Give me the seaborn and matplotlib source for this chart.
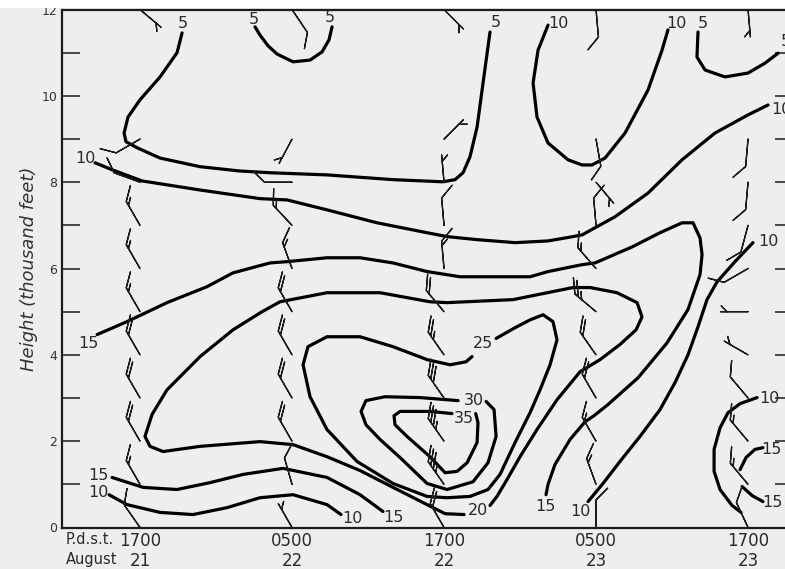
import numpy as np
import pandas as pd
import matplotlib
matplotlib.use("Agg")
import matplotlib.pyplot as plt
import seaborn as sns
from matplotlib.patches import Rectangle

# ---------------- data ----------------
# sounding times: hours after 1700 P.d.s.t., August 21
sounding_hours = [0, 12, 24, 36, 48]
time_labels = ["1700\n21", "0500\n22", "1700\n22", "0500\n23", "1700\n23"]
barb_heights = [0, 1, 2, 3, 4, 5, 6, 7, 8, 9, 12]          # thousand feet

# wind direction (deg, blowing from) and speed at barb_heights, one list per sounding
dir_21_1700 = [325, 330, 330, 330, 330, 330, 330, 330, 290, 240, 130]
spd_21_1700 = [10, 15, 20, 20, 20, 15, 15, 15, 10, 10, 5]
dir_22_0500 = [330, 344, 330, 330, 330, 330, 340, 317, 270, 208, 146]
spd_22_0500 = [5, 10, 20, 20, 20, 20, 15, 15, 10, 5, 10]
dir_22_1700 = [330, 325, 325, 325, 325, 320, 355, 355, 355, 45, 135]
spd_22_1700 = [20, 35, 35, 30, 25, 20, 15, 10, 5, 5, 5]
dir_23_0500 = [0, 340, 330, 330, 325, 310, 319, 355, 140, 170, 175]
spd_23_0500 = [10, 15, 15, 20, 20, 25, 15, 10, 5, 10, 10]
dir_23_1700 = [335, 320, 320, 320, 300, 270, 240, 195, 185, 185, 175]
spd_23_1700 = [10, 15, 15, 10, 5, 5, 10, 10, 10, 10, 5]

# isotachs (hand analysed), points as (hours, thousand feet)
iso05_west = [(3.32, 11.46), (2.92, 11.00), (1.58, 10.44), (0.00, 9.91), (-0.95, 9.51),
              (-1.26, 9.14), (-1.11, 8.94), (-0.24, 8.80), (1.58, 8.56), (4.74, 8.36),
              (7.89, 8.26), (10.26, 8.22), (14.76, 8.17), (19.97, 8.06), (23.92, 8.01),
              (24.87, 8.06), (25.50, 8.22), (26.05, 8.59), (26.61, 9.28), (27.08, 10.30),
              (27.63, 11.48)]
iso05_cell = [(9.08, 11.60), (9.47, 11.41), (10.11, 11.16), (10.82, 10.97), (12.08, 10.79),
              (13.42, 10.83), (14.37, 11.02), (14.92, 11.30), (15.16, 11.60)]
iso10_north = [(32.21, 11.64), (31.42, 11.06), (31.03, 10.30), (31.34, 9.51), (32.21, 8.91),
               (33.79, 8.52), (34.90, 8.40), (35.68, 8.40), (36.71, 8.56), (38.29, 9.14),
               (40.11, 10.14), (41.21, 11.06), (41.68, 11.53)]
iso05_east = [(44.05, 11.48), (43.97, 10.90), (44.61, 10.60), (46.18, 10.44), (48.00, 10.53),
              (49.34, 10.76), (50.37, 10.99)]
iso10_upper = [(-3.55, 8.45), (-2.21, 8.29), (0.16, 8.03), (4.74, 7.82), (9.47, 7.62),
               (11.61, 7.59), (14.76, 7.36), (18.71, 7.06), (22.66, 6.83), (24.24, 6.74),
               (26.61, 6.67), (29.61, 6.60), (32.21, 6.64), (34.18, 6.74), (34.90, 6.78),
               (37.50, 7.20), (40.11, 7.75), (42.79, 8.52), (45.39, 9.14), (48.00, 9.56),
               (49.58, 9.79)]
iso15_outer = [(-3.39, 4.47), (-1.03, 4.77), (2.13, 5.21), (5.29, 5.58), (7.34, 5.90),
               (10.26, 6.13), (11.61, 6.16), (14.76, 6.25), (17.37, 6.25), (19.97, 6.13),
               (22.66, 5.93), (25.26, 5.81), (30.79, 5.81), (32.21, 5.93), (34.90, 6.09),
               (35.92, 6.13), (38.84, 6.50), (41.05, 6.83), (42.79, 7.06), (43.66, 7.06),
               (44.21, 6.71), (44.37, 6.32), (44.21, 5.86), (43.26, 5.05), (41.61, 4.28),
               (39.32, 3.47), (36.95, 2.85), (35.84, 2.59), (35.13, 2.45), (33.95, 2.04),
               (32.76, 1.46), (32.21, 1.00), (32.05, 0.76)]
iso20_loop = [(27.63, 0.51), (28.18, 0.72), (28.97, 1.11), (30.00, 1.64), (31.34, 2.27),
              (32.92, 2.96), (34.74, 3.61), (36.32, 3.89), (37.89, 4.24), (39.16, 4.58),
              (39.63, 4.88), (39.24, 5.21), (37.66, 5.44), (35.53, 5.56), (34.18, 5.56),
              (29.45, 5.28), (24.24, 5.21), (22.89, 5.23), (18.95, 5.44), (14.76, 5.44),
              (11.05, 5.23), (9.63, 5.00), (7.34, 4.58), (4.74, 3.96), (2.13, 3.19),
              (0.95, 2.62), (0.39, 2.11), (0.79, 1.88), (1.82, 1.76), (4.74, 1.88),
              (9.47, 1.99), (12.08, 1.92), (14.76, 1.64), (17.37, 1.32), (19.97, 0.93),
              (22.66, 0.53), (24.08, 0.32), (25.58, 0.30)]
iso25_loop = [(28.11, 4.38), (29.61, 4.63), (30.79, 4.81), (31.82, 4.93), (32.60, 4.77),
              (32.92, 4.35), (32.37, 3.77), (31.58, 3.19), (30.79, 2.66), (29.61, 1.97),
              (28.42, 1.23), (27.47, 0.88), (26.05, 0.72), (24.24, 0.69), (22.66, 0.72),
              (19.97, 1.02), (17.13, 1.53), (14.76, 2.27), (13.42, 3.03), (12.87, 3.77),
              (13.26, 4.19), (14.76, 4.42), (17.37, 4.42), (19.97, 4.19), (22.66, 3.89),
              (24.47, 3.77), (25.74, 3.84), (26.21, 3.96)]
iso30_loop = [(27.32, 2.92), (27.95, 2.73), (28.11, 2.11), (27.47, 1.50), (26.29, 1.06),
              (24.24, 0.88), (22.66, 1.02), (20.53, 1.62), (18.95, 2.04), (17.84, 2.38),
              (17.45, 2.69), (17.84, 2.94), (19.34, 3.03), (22.11, 3.01), (25.11, 2.94)]
iso35_loop = [(26.50, 2.64), (26.68, 2.43), (26.61, 1.97), (25.82, 1.50), (25.03, 1.30),
              (24.08, 1.27), (22.89, 1.64), (21.08, 2.11), (20.13, 2.38), (20.05, 2.59),
              (20.53, 2.69), (22.89, 2.69), (24.63, 2.64)]
iso15_low = [(-2.21, 1.16), (0.24, 0.93), (2.92, 0.88), (5.53, 1.04), (8.13, 1.23),
             (11.29, 1.37), (14.76, 1.16), (17.37, 0.76), (19.18, 0.37)]
iso10_low = [(-2.45, 0.76), (-1.03, 0.53), (1.58, 0.35), (4.18, 0.30), (6.87, 0.46),
             (9.47, 0.69), (12.08, 0.76), (14.76, 0.53), (15.87, 0.30)]
iso10_rise = [(35.37, 0.60), (36.55, 1.02), (37.89, 1.53), (39.47, 2.11), (41.05, 2.73),
              (42.24, 3.36), (43.26, 4.00), (44.05, 4.65), (44.76, 5.28), (45.55, 5.69),
              (46.97, 6.16), (48.39, 6.60)]
iso10_east = [(48.71, 3.01), (47.37, 2.87), (46.42, 2.66), (45.79, 2.31), (45.32, 1.81),
              (45.32, 1.30), (45.79, 0.88), (46.74, 0.51), (47.45, 0.35)]
iso15_east_upper = [(47.37, 1.34), (47.84, 1.62), (48.55, 1.81), (49.18, 1.85)]
iso15_east_lower = [(47.53, 0.95), (48.32, 0.74), (49.18, 0.60)]

# isotach labels: (value, hours, thousand feet)
isotach_labels = [("5", 3.39, 11.67), ("5", 9.00, 11.76), ("5", 15.00, 11.81),
                  ("5", 28.11, 11.69), ("10", 33.00, 11.67), ("10", 42.32, 11.67),
                  ("5", 44.45, 11.67), ("5", 51.0, 11.25), ("10", -4.34, 8.54),
                  ("10", 50.6, 9.68), ("15", -4.11, 4.26), ("25", 27.08, 4.26),
                  ("30", 26.37, 2.94), ("35", 25.58, 2.52), ("20", 26.68, 0.39),
                  ("15", 19.97, 0.23), ("10", 16.74, 0.21), ("15", 31.97, 0.49),
                  ("10", 34.74, 0.37), ("10", 49.58, 6.62), ("10", 49.66, 2.99),
                  ("15", 49.82, 1.81), ("15", 49.90, 0.58), ("15", -3.32, 1.20),
                  ("10", -3.32, 0.81)]

# ---------------- figure ----------------
BG = "#eeeeee"
INK = "#1c1c1c"
sns.set_theme(style="white", rc={"axes.facecolor": BG, "figure.facecolor": BG})
plt.rcParams["font.family"] = ["DejaVu Sans"]

W, H = 785, 569
fig = plt.figure(figsize=(W / 100, H / 100), dpi=100, facecolor=BG)
ax = fig.add_axes([61.5 / W, (H - 527.5) / H, (793 - 61.5) / W, (527.5 - 9.6) / H])
ax.set_facecolor(BG)

# isotachs via seaborn
lines = [iso05_west, iso05_cell, iso10_north, iso05_east, iso10_upper, iso15_outer,
         iso20_loop, iso25_loop, iso30_loop, iso35_loop, iso15_low, iso10_low,
         iso10_rise, iso10_east, iso15_east_upper, iso15_east_lower]
rows = []
for k, pts in enumerate(lines):
    for i, (x, y) in enumerate(pts):
        rows.append({"hours": x, "kft": y, "line": k, "order": i})
df = pd.DataFrame(rows)
sns.lineplot(data=df, x="hours", y="kft", units="line", estimator=None, sort=False,
             color="black", linewidth=2.3, legend=False, ax=ax,
             solid_capstyle="round", solid_joinstyle="round")

for txt, x, y in isotach_labels:
    ax.text(x, y, txt, ha="center", va="center", fontsize=11.5, color="#2a2a2a", zorder=5)

# wind barbs (hand-drawn style: short staff, feathers swept toward the tip)
dirs = [dir_21_1700, dir_22_0500, dir_22_1700, dir_23_0500, dir_23_1700]
spds = [spd_21_1700, spd_22_0500, spd_22_1700, spd_23_0500, spd_23_1700]
bx, by, bu, bv = [], [], [], []
for t, dcol, scol in zip(sounding_hours, dirs, spds):
    for h, d, s in zip(barb_heights, dcol, scol):
        r = np.radians(d)
        bx.append(t)
        by.append(h)
        bu.append(-s * np.sin(r))
        bv.append(-s * np.cos(r))
ax.barbs(bx, by, bu, bv, length=6.3, linewidth=0.95, color=INK, zorder=4,
         sizes=dict(height=0.42, width=0.85, spacing=0.16))

# axes
ax.set_xlim(-6.2, 51.55)
ax.set_ylim(0, 12)
ax.set_yticks(range(0, 13, 2))
ax.set_yticks(range(1, 12, 2), minor=True)
ax.tick_params(axis="y", which="both", direction="in", length=13, width=1.1,
               left=True, right=True, labelsize=9, pad=3.2, color=INK, labelcolor="#333333")
ax.set_xticks(sounding_hours, time_labels)
ax.tick_params(axis="x", length=0, pad=3.0, labelsize=12, labelcolor="#2a2a2a")
for lab in ax.get_xticklabels():
    lab.set_linespacing(1.2)
ax.set_xlabel("")
ax.annotate("P.d.s.t.\nAugust", xy=(-5.85, 0), xycoords=("data", "axes fraction"),
            xytext=(0, -3.5), textcoords="offset points", ha="left", va="top",
            fontsize=10.5, color="#2a2a2a", linespacing=1.37, annotation_clip=False)

ax.set_ylabel("Height (thousand feet)", fontsize=13, style="italic", color="#333333")
ax.yaxis.set_label_coords(-0.032, 0.5)

for side in ["left", "top", "bottom", "right"]:
    ax.spines[side].set_color(INK)
    ax.spines[side].set_linewidth(1.6)

# white strip of the scan above the frame
fig.add_artist(Rectangle((0, 1 - 8 / H), 1, 8 / H, transform=fig.transFigure,
                         facecolor="white", edgecolor="none", zorder=10))

fig.savefig("out.png", dpi=100, facecolor=BG)
